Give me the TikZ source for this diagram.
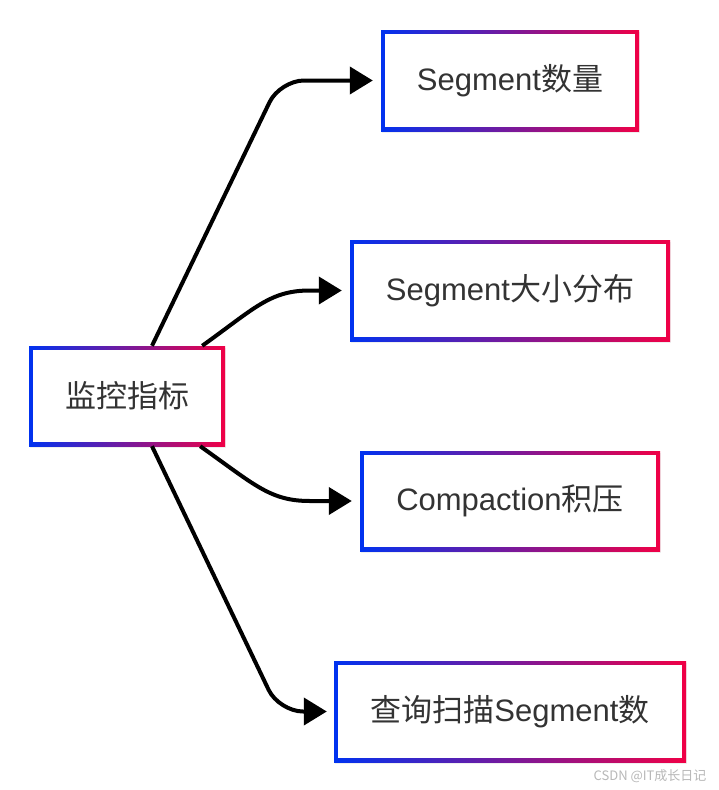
\documentclass[tikz,border=0pt]{standalone}
\usepackage{fontspec}
\setmainfont{Liberation Sans}
\newfontfamily\cjk{Noto Sans CJK SC}
\usetikzlibrary{arrows.meta,calc,shadows}
\definecolor{gblue}{RGB}{0,50,240}
\definecolor{gred}{RGB}{240,0,70}
\definecolor{txt}{RGB}{51,51,51}
\tikzset{
  gbox/.style={rectangle, inner sep=0pt, left color=gblue, right color=gred,
    text=txt, font=\fontsize{31}{36}\selectfont,
    drop shadow={opacity=0.12, shadow xshift=1pt, shadow yshift=-2pt},
    path picture={\fill[white] ([shift={(4pt,-4pt)}]path picture bounding box.north west) rectangle ([shift={(-4pt,4pt)}]path picture bounding box.south east);}},
  conn/.style={line width=4pt, -{Triangle[length=23pt,width=27pt]}},
}
\begin{document}
\begin{tikzpicture}[x=1pt,y=-1pt]
\useasboundingbox[fill=white] (0,0) rectangle (718,790);
\node[gbox, minimum width=196pt, minimum height=100pt] (m) at (127,396) {\cjk 监控指标};
\node[gbox, minimum width=258pt, minimum height=101pt] (b1) at (510,80.5) {Segment{\cjk 数量}};
\node[gbox, minimum width=320pt, minimum height=101pt] (b2) at (510,290.5) {Segment{\cjk 大小分布}};
\node[gbox, minimum width=300pt, minimum height=100pt] (b3) at (510,501) {Compaction{\cjk 积压}};
\node[gbox, minimum width=352pt, minimum height=101pt] (b4) at (510,711.5) {{\cjk 查询扫描}Segment{\cjk 数}};
\draw[conn, rounded corners=24pt] ($(m.north)+(25,0)$) -- (280,80.5) -- ($(b1.west)+(-8,0)$);
\draw[conn] ($(m.north east)+(-23,0)$) .. controls (255,308) and (270,290.5) .. (310,290.5) -- ($(b2.west)+(-8,0)$);
\draw[conn] ($(m.south east)+(-25,0)$) .. controls (255,485) and (270,501) .. (310,501) -- ($(b3.west)+(-8,0)$);
\draw[conn, rounded corners=24pt] ($(m.south)+(25,0)$) -- (279,711.5) -- ($(b4.west)+(-7,0)$);
\node[text=black!28, font=\cjk\fontsize{13}{15}\selectfont, anchor=east] (wm) at (710,776) {CSDN @IT成长日记};
\end{tikzpicture}
\end{document}
